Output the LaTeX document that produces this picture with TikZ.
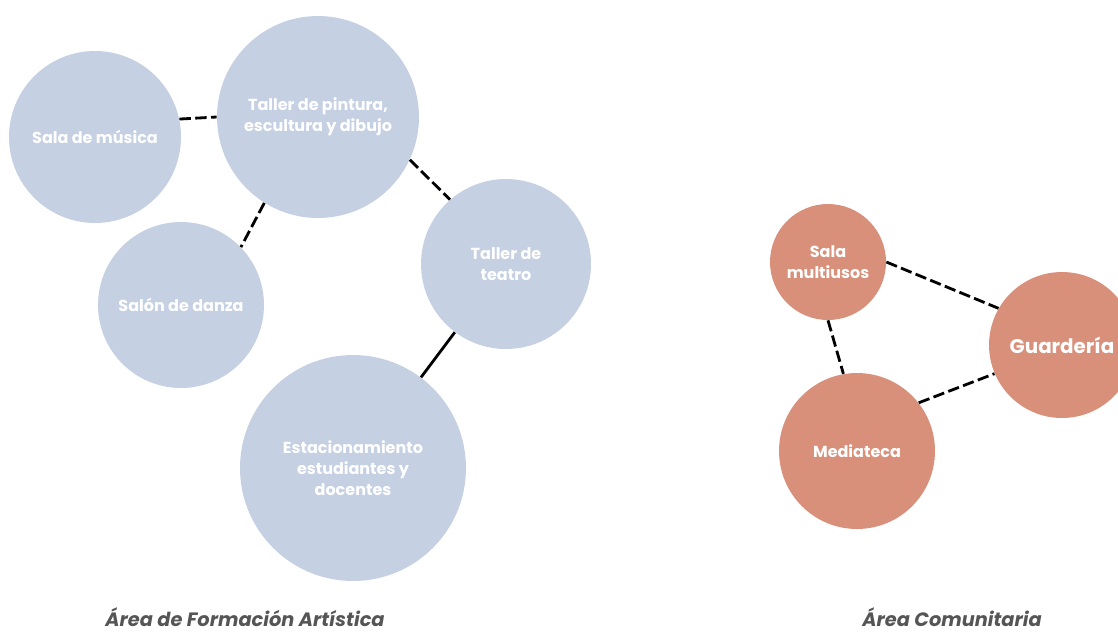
\documentclass[tikz,border=0pt]{standalone}
\usepackage{fontspec}
\setmainfont{Poppins}
\usetikzlibrary{positioning}
\definecolor{artblue}{HTML}{C5D0E3}
\definecolor{commorange}{HTML}{D9907A}
\definecolor{areagray}{HTML}{555555}

\begin{document}
\begin{tikzpicture}[
  x=0.02cm, y=-0.02cm,
  room/.style={
    circle, inner sep=0pt, text=white, align=center,
    font=\fontsize{9.1}{12}\selectfont\bfseries
  },
  art/.style={room, fill=artblue},
  comm/.style={room, fill=commorange},
  link/.style={black, line width=1.6pt, dash pattern=on 6.5pt off 2.5pt},
  solidlink/.style={black, line width=1.6pt},
  area/.style={font=\fontsize{11}{13}\selectfont\bfseries\itshape, text=areagray},
]
\useasboundingbox (0,0) rectangle (1118,633);

% Artistic training area
\node[art, minimum size=3.44cm] (musica) at (95,137) {Sala de música};
\node[art, minimum size=4.04cm] (pintura) at (318,117) {Taller de pintura,\\escultura y dibujo};
\node[art, minimum size=3.32cm] (danza) at (181,305) {Salón de danza};
\node[art, minimum size=3.40cm] (teatro) at (506,264) {Taller de\\teatro};
\node[art, minimum size=4.52cm] (estac) at (353,468) {Estacionamiento\\estudiantes y\\docentes};

% Community area
\node[comm, minimum size=2.32cm] (multi) at (828,262) {Sala\\multiusos};
\node[comm, minimum size=2.92cm, font=\fontsize{11.3}{13}\selectfont\bfseries] (guard) at (1062,345) {Guardería};
\node[comm, minimum size=3.12cm] (media) at (857,451) {Mediateca};

% Links
\draw[link] (musica.12) -- (pintura.180);
\draw[link] (pintura.238) -- (danza.44);
\draw[link] (pintura.335) -- (teatro.131);
\draw[solidlink] (teatro) -- (estac);
\draw[link] (multi.0) -- (guard.150);
\draw[link] (multi.270) -- (media.100);
\draw[link] (media.38) -- (guard.203);

% Area labels
\node[area] (artlabel) at (245,617) {Área de Formación Artística};
\node[area] (commlabel) at (952,617) {Área Comunitaria};

\end{tikzpicture}
\end{document}
